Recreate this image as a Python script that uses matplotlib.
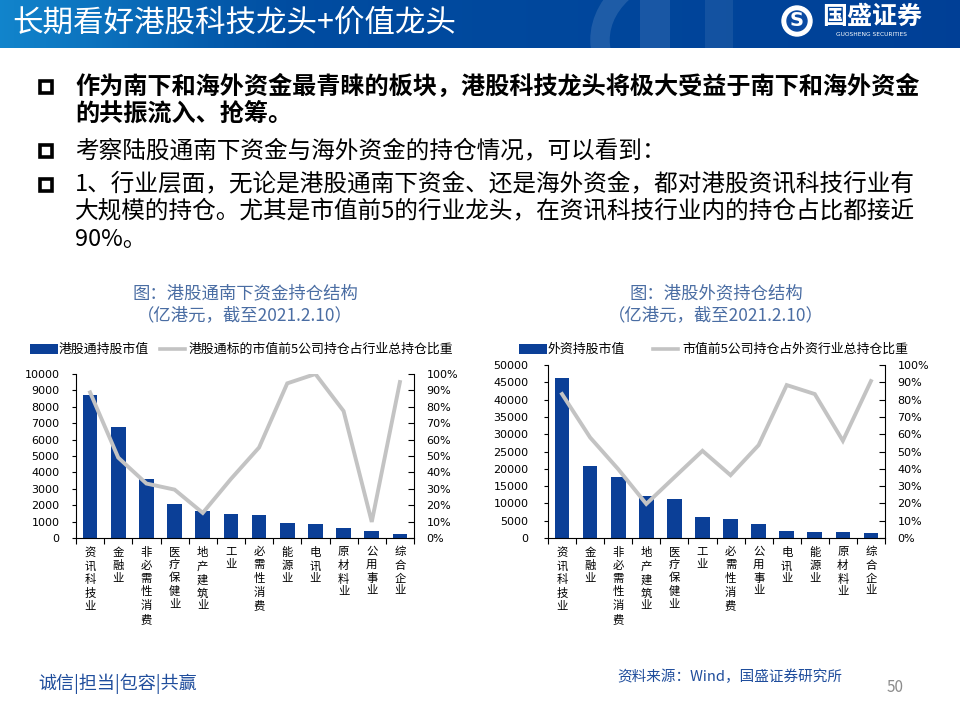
import numpy as np
import matplotlib
matplotlib.use('Agg')
import matplotlib.pyplot as plt
from matplotlib.patches import Rectangle, Circle, Arc
from matplotlib.lines import Line2D
from matplotlib.ticker import PercentFormatter

plt.rcParams['font.family'] = ['Noto Sans CJK SC', 'DejaVu Sans']

BLUE = '#0b3f97'
GREY = '#c3c3c3'
TITLE_BLUE = '#4a6da3'
FOOT_BLUE = '#1f4d9c'

# 港股通南下资金持仓结构 (亿港元)
sb_industries = ['资讯科技业', '金融业', '非必需性消费', '医疗保健业', '地产建筑业', '工业',
                 '必需性消费', '能源业', '电讯业', '原材料业', '公用事业', '综合企业']
sb_value = [8750, 6750, 3620, 2060, 1630, 1450, 1390, 900, 840, 590, 410, 240]
sb_top5 = [0.888, 0.49, 0.332, 0.295, 0.153, 0.36, 0.552, 0.943, 1.0, 0.774, 0.098, 0.951]

# 港股外资持仓结构 (亿港元)
fx_industries = ['资讯科技业', '金融业', '非必需性消费', '地产建筑业', '医疗保健业', '工业',
                 '必需性消费', '公用事业', '电讯业', '能源业', '原材料业', '综合企业']
fx_value = [46100, 20750, 17550, 12250, 11200, 6000, 5400, 3950, 1950, 1650, 1650, 1350]
fx_top5 = [0.832, 0.581, 0.398, 0.197, 0.351, 0.504, 0.363, 0.537, 0.884, 0.832, 0.562, 0.907]

bullets = [
    (['作为南下和海外资金最青睐的板块，港股科技龙头将极大受益于南下和海外资金',
      '的共振流入、抢筹。'], 'bold', [87, 114]),
    (['考察陆股通南下资金与海外资金的持仓情况，可以看到：'], 'normal', [151]),
    (['1、行业层面，无论是港股通南下资金、还是海外资金，都对港股资讯科技行业有',
      '大规模的持仓。尤其是市值前5的行业龙头，在资讯科技行业内的持仓占比都接近',
      '90%。'], 'normal', [185, 212, 240]),
]

fig = plt.figure(figsize=(9.6, 7.2), dpi=100)

# background layer in pixel coordinates
bg = fig.add_axes([0, 0, 1, 1])
bg.axis('off')

# header band
t = np.linspace(0, 1, 480)
grad = np.stack([np.interp(t, [0, 0.3, 1], [0.07, 0.0, 0.0]),
                 np.interp(t, [0, 0.3, 1], [0.52, 0.30, 0.25]),
                 np.interp(t, [0, 0.3, 1], [0.80, 0.63, 0.59])], axis=-1)[None, :, :]
bg.imshow(grad, extent=(0, 960, 48, 0), aspect='auto', zorder=0)
bg.add_patch(Arc((700, 40), 200, 150, theta1=90, theta2=270, lw=14,
                 color='white', alpha=0.12, zorder=1))
bg.add_patch(Rectangle((640, 0), 30, 48, color='white', alpha=0.10, lw=0, zorder=1))
bg.add_patch(Rectangle((705, 0), 28, 48, color='white', alpha=0.08, lw=0, zorder=1))
bg.set_xlim(0, 960)
bg.set_ylim(720, 0)
bg.text(12, 23, '长期看好港股科技龙头+价值龙头', color='white', fontsize=22,
        va='center', ha='left', zorder=3)

# logo
bg.add_patch(Circle((797, 21), 15, color='white', zorder=3))
bg.add_patch(Circle((797, 21), 10, color='#0b4aa2', zorder=3))
bg.text(797, 21, 'S', color='white', fontsize=14, fontweight='bold',
        ha='center', va='center', family='DejaVu Sans', zorder=4)
bg.text(872, 17, '国盛证券', color='white', fontsize=18, fontweight='bold',
        ha='center', va='center', zorder=3)
bg.text(872, 34, 'GUOSHENG SECURITIES', color='white', fontsize=4.2,
        ha='center', va='center', family='DejaVu Sans', zorder=3)

# bullet text
for lines, weight, ys in bullets:
    bg.add_patch(Rectangle((39.5, ys[0] - 6.5), 12.5, 12.5, fill=False, ec='black', lw=2.6))
    for line, y in zip(lines, ys):
        bg.text(75, y, line, fontsize=17.4 if weight == 'bold' else 17,
                fontweight=weight, color='black', ha='left', va='center')

# chart titles
for cx, title in [(245, '图：港股通南下资金持仓结构'), (716, '图：港股外资持仓结构')]:
    bg.text(cx, 293, title, color=TITLE_BLUE, fontsize=12.5, ha='center', va='center')
    bg.text(cx, 315, '（亿港元，截至2021.2.10）', color=TITLE_BLUE, fontsize=12.5,
            ha='center', va='center')

# legends
legend_items = [
    (30, 160, '港股通持股市值', '港股通标的市值前5公司持仓占行业总持仓比重'),
    (519, 653, '外资持股市值', '市值前5公司持仓占外资行业总持仓比重'),
]
for bx, lx, bar_label, line_label in legend_items:
    bg.add_patch(Rectangle((bx, 344), 28, 10, color=BLUE, lw=0))
    bg.text(bx + 29, 349, bar_label, fontsize=9.3, ha='left', va='center')
    bg.add_line(Line2D([lx, lx + 25], [349, 349], color=GREY, lw=2.6))
    bg.text(lx + 29, 349, line_label, fontsize=9.3, ha='left', va='center')

# footer
bg.text(38, 684, '诚信|担当|包容|共赢', color=FOOT_BLUE, fontsize=13, ha='left', va='center')
bg.text(730, 677, '资料来源：Wind，国盛证券研究所', color=FOOT_BLUE, fontsize=10.5,
        style='italic', ha='center', va='center')
bg.text(895, 688, '50', color='#8c8c8c', fontsize=11, ha='center', va='center')


def draw_chart(rect, cats, values, ratios, ymax, ystep, lpad):
    ax = fig.add_axes(rect)
    ax.patch.set_alpha(0)
    x = np.arange(len(cats))
    ax.bar(x, values, width=0.52, color=BLUE, zorder=2)
    ax.set_xlim(-0.5, len(cats) - 0.5)
    ax.set_ylim(0, ymax)
    ax.set_yticks(np.arange(0, ymax + 1, ystep))
    ax.set_xticks(np.arange(-0.5, len(cats)), labels=[])
    ax.tick_params(axis='x', which='major', direction='out', length=4, width=0.8)
    ax.tick_params(axis='y', direction='out', length=3, width=0.8, labelsize=8, pad=lpad)
    for lab in ax.get_yticklabels():
        lab.set_family('DejaVu Sans')
    # vertical category labels, one character per line
    for xi, c in zip(x, cats):
        ax.annotate('\n'.join(c), xy=(xi, 0), xycoords=('data', 'axes fraction'),
                    xytext=(0, -9), textcoords='offset pixels', ha='center', va='top',
                    fontsize=8.2, linespacing=1.32, annotation_clip=False)
    ax.spines['top'].set_visible(False)
    ax.spines['right'].set_visible(False)
    for s in ['left', 'bottom']:
        ax.spines[s].set_linewidth(0.8)

    ax2 = ax.twinx()
    ax2.plot(x, ratios, color=GREY, lw=2.8, solid_joinstyle='miter', zorder=3)
    ax2.set_ylim(0, 1)
    ax2.set_yticks(np.arange(0, 1.01, 0.1))
    ax2.yaxis.set_major_formatter(PercentFormatter(1, decimals=0))
    ax2.tick_params(axis='y', direction='in', length=4, width=0.8, labelsize=8, pad=9)
    for lab in ax2.get_yticklabels():
        lab.set_family('DejaVu Sans')
    ax2.spines['top'].set_visible(False)
    ax2.spines['left'].set_visible(False)
    ax2.spines['bottom'].set_visible(False)
    ax2.spines['right'].set_linewidth(0.8)
    return ax, ax2


draw_chart([76 / 960, 1 - 538 / 720, 338 / 960, (538 - 374) / 720],
           sb_industries, sb_value, sb_top5, 10000, 1000, 9)
draw_chart([548 / 960, 1 - 538 / 720, 337 / 960, (538 - 365) / 720],
           fx_industries, fx_value, fx_top5, 50000, 5000, 11)

fig.savefig('out.png', dpi=100)
